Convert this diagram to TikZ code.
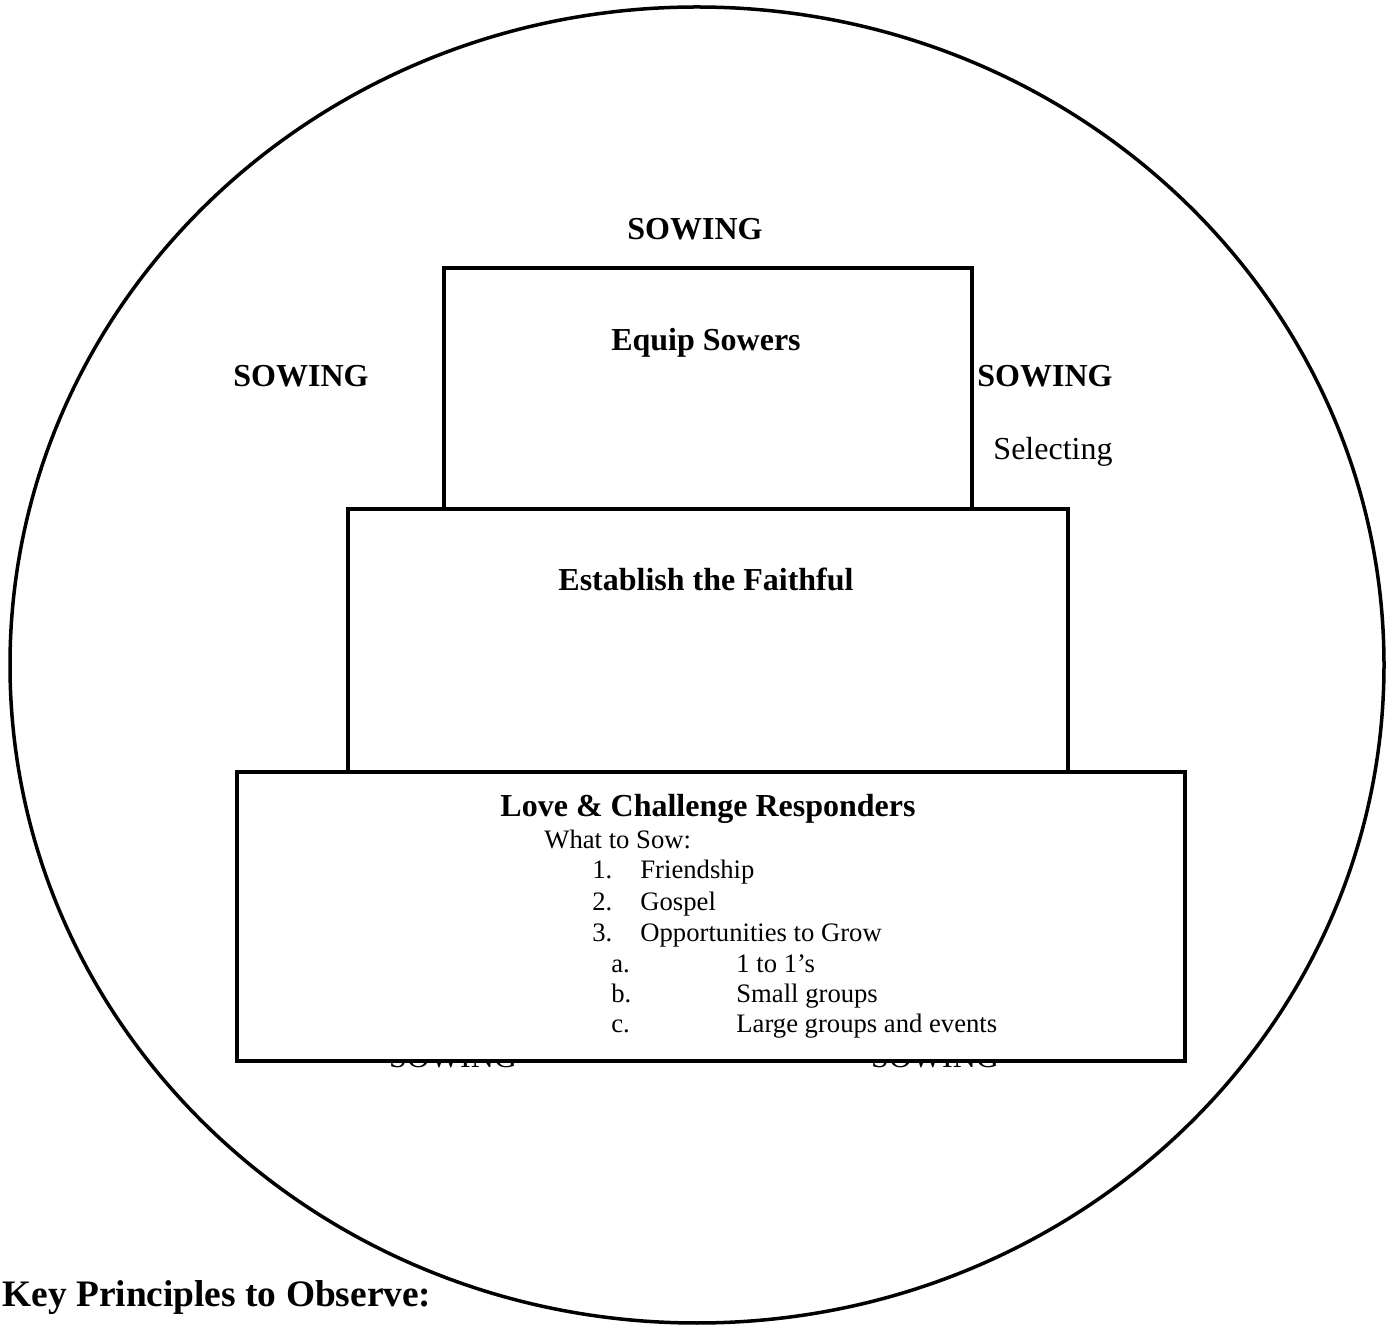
\documentclass[tikz,border=0pt]{standalone}
\usepackage{fontspec}
\setmainfont{Liberation Serif}
\usetikzlibrary{positioning}
\tikzset{tier/.style={draw,line width=1.75pt,fill=white,inner sep=0pt,anchor=south west},
	head/.style={font=\fontsize{16}{19}\selectfont\bfseries,inner sep=0pt,anchor=base},
	plain/.style={font=\fontsize{16}{19}\selectfont,inner sep=0pt,anchor=base},
	item/.style={font=\fontsize{13.33}{16}\selectfont,inner sep=0pt,anchor=base west},}

\begin{document}
\begin{tikzpicture}[x=0.5pt,y=0.5pt]
	\useasboundingbox (0,0) rectangle (1388,1324);
	\draw[line width=1.75pt] (697,659) ellipse [x radius=687, y radius=658];

	% sowing words under the bottom tier
	\node[plain] (hidL) at (453,256) {SOWING};
	\node[plain] (hidR) at (935,256) {SOWING};

	% the three tiers
	\node[tier, minimum width=474pt, minimum height=144.5pt] (love) at (235,261) {};
	\node[tier, minimum width=360pt, minimum height=131.5pt] (establish) at (346,550) {};
	\node[tier, minimum width=264pt, minimum height=120.5pt] (equip) at (442,813) {};

	\node[head] (sowT) at (695,1084) {SOWING};
	\node[head] (sowL) at (301,937) {SOWING};
	\node[head] (sowR) at (1045,937) {SOWING};
	\node[plain] (select) at (1053,864) {Selecting};

	\node[head] (equipT) at (706,973) {Equip Sowers};
	\node[head] (establishT) at (706,733) {Establish the Faithful};
	\node[head] (loveT) at (708,507) {Love \& Challenge Responders};

	% what to sow
	\node[item] (what) at (544,475) {What to Sow:};
	\node[item] (n1) at (592,445) {1.};
	\node[item] (i1) at (640,445) {Friendship};
	\node[item] (n2) at (592,413) {2.};
	\node[item] (i2) at (640,413) {Gospel};
	\node[item] (n3) at (592,382) {3.};
	\node[item] (i3) at (640,382) {Opportunities to Grow};
	\node[item] (la) at (611,351) {a.};
	\node[item] (sa) at (736,351) {1 to 1’s};
	\node[item] (lb) at (611,321) {b.};
	\node[item] (sb) at (736,321) {Small groups};
	\node[item] (lc) at (611,291) {c.};
	\node[item] (sc) at (736,291) {Large groups and events};

	\node[head, anchor=base west, font=\fontsize{18.7}{22}\selectfont\bfseries] (key) at (2,18) {Key Principles to Observe:};
\end{tikzpicture}
\end{document}
